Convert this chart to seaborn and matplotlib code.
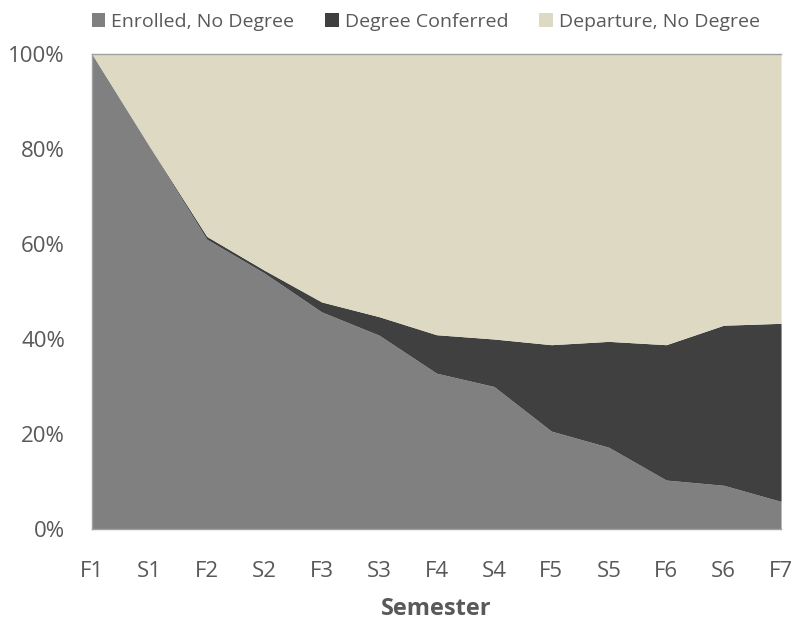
import matplotlib
matplotlib.use("Agg")
import matplotlib.pyplot as plt
from matplotlib.patches import Patch
import seaborn as sns

sns.set_style("white")
plt.rcParams["font.family"] = ["Open Sans", "DejaVu Sans"]

# ------------------ Dados ------------------ #
semestres = ["F1", "S1", "F2", "S2", "F3", "S3", "F4", "S4", "F5", "S5", "F6", "S6", "F7"]
matriculado = [100, 80.5, 61.0, 53.9, 45.7, 40.8, 32.8, 30.0, 20.6, 17.2, 10.3, 9.2, 5.8]
diplomado = [0, 0.1, 0.6, 0.6, 2.1, 3.9, 8.1, 10.0, 18.2, 22.3, 28.5, 33.7, 37.5]
evadido = [100 - m - d for m, d in zip(matriculado, diplomado)]

series = ["Enrolled, No Degree", "Degree Conferred", "Departure, No Degree"]
cores = ["#808080", "#404040", "#DDD9C3"]
cor_texto = "#595959"

# ------------------ Gráfico ------------------ #
fig = plt.figure(figsize=(7.97, 6.21), dpi=100)
ax = fig.add_axes([0.1154, 0.1482, 0.98 - 0.1154, 0.913 - 0.1482])

x = list(range(len(semestres)))
ax.stackplot(x, matriculado, diplomado, evadido, colors=cores, linewidth=0)

ax.set_xlim(0, len(semestres) - 1)
ax.set_ylim(0, 100)
ax.set_xticks(x)
ax.set_xticklabels(semestres)
ax.set_yticks(range(0, 101, 20))
ax.set_yticklabels([f"{v}%" for v in range(0, 101, 20)])
ax.tick_params(axis="both", length=0, labelsize=16, labelcolor=cor_texto)
ax.tick_params(axis="y", pad=19.5)
ax.tick_params(axis="x", pad=23)
ax.set_xlabel("Semester", fontsize=17, fontweight="bold", color=cor_texto, labelpad=11)

for lado in ["left", "bottom", "top"]:
    ax.spines[lado].set_color("#A0A0A0")
    ax.spines[lado].set_linewidth(1)
ax.spines["right"].set_visible(False)

handles = [Patch(facecolor=c, edgecolor="none") for c in cores]
fig.legend(handles, series, loc="center", bbox_to_anchor=(0.534, 0.9646), ncol=3,
           frameon=False, fontsize=14, handlelength=0.7, handleheight=0.7,
           handletextpad=0.3, columnspacing=1.6, labelcolor=cor_texto,
           borderpad=0, borderaxespad=0)

fig.savefig("out.png", dpi=100)
